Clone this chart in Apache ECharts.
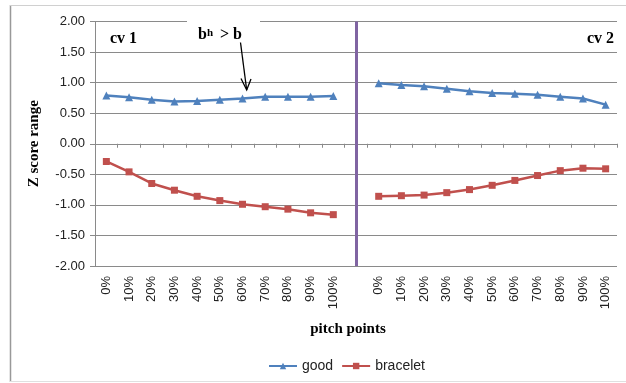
<!DOCTYPE html>
<html>
<head>
<meta charset="utf-8">
<script src="https://cdn.jsdelivr.net/npm/echarts@6/dist/echarts.min.js"></script>
<style>
  html, body { margin: 0; padding: 0; background: #fff; }
  #chart { width: 626px; height: 383px; }
</style>
</head>
<body>
<div id="chart"></div>
<script>
// Pitch positions along each curve
const pitchPoints = ['0%', '10%', '20%', '30%', '40%', '50%', '60%', '70%', '80%', '90%', '100%'];

// Z scores, first curve (cv 1)
const goodCv1 = [0.79, 0.76, 0.72, 0.69, 0.70, 0.72, 0.74, 0.77, 0.77, 0.77, 0.78];
const braceletCv1 = [-0.29, -0.46, -0.65, -0.76, -0.86, -0.93, -0.99, -1.03, -1.07, -1.13, -1.16];

// Z scores, second curve (cv 2)
const goodCv2 = [0.99, 0.96, 0.94, 0.90, 0.86, 0.83, 0.82, 0.80, 0.77, 0.74, 0.64];
const braceletCv2 = [-0.86, -0.85, -0.84, -0.80, -0.75, -0.68, -0.60, -0.52, -0.44, -0.40, -0.41];

// Value axis ticks
const yTicks = [-2, -1.5, -1, -0.5, 0, 0.5, 1, 1.5, 2];

// Both curves share one category axis, separated by an empty slot
const categories = [...pitchPoints, '', ...pitchPoints];
const gapIndex = pitchPoints.length;
const goodData = [...goodCv1, null, ...goodCv2];
const braceletData = [...braceletCv1, null, ...braceletCv2];

const serif = '"Liberation Serif", "DejaVu Serif", serif';
const sans = '"Liberation Sans", Arial, sans-serif';
const gridGrey = '#8a8a8a';

const chart = echarts.init(document.getElementById('chart'));
chart.setOption({
  animation: false,
  backgroundColor: '#fff',
  grid: { left: 95, right: 9, top: 21.5, bottom: 117 },
  legend: {
    left: 263, top: 354,
    itemWidth: 28, itemHeight: 8, itemGap: 8,
    textStyle: { fontFamily: sans, fontSize: 14, color: '#222' },
    data: ['good', 'bracelet']
  },
  xAxis: [
    {
      type: 'category',
      data: categories,
      boundaryGap: true,
      position: 'bottom',
      axisLine: { show: false, onZero: false },
      axisTick: { show: false },
      axisLabel: { interval: 0, rotate: 90, margin: 10, fontFamily: sans, fontSize: 13, color: '#222' },
      name: 'pitch points',
      nameLocation: 'middle',
      nameGap: 56,
      nameTextStyle: { fontFamily: serif, fontSize: 15, fontWeight: 'bold', color: '#000', padding: [0, 16, 0, 0] }
    },
    {
      type: 'category',
      data: categories,
      boundaryGap: true,
      position: 'bottom',
      axisLine: { show: true, onZero: true, onZeroAxisIndex: 0, lineStyle: { color: gridGrey, width: 1 } },
      axisTick: { show: true, interval: 0, length: 4, lineStyle: { color: gridGrey } },
      axisLabel: { show: false }
    }
  ],
  yAxis: {
    type: 'value',
    min: yTicks[0],
    max: yTicks[yTicks.length - 1],
    interval: 0.5,
    axisLine: { show: true, lineStyle: { color: gridGrey, width: 1 } },
    axisTick: { show: true, length: 5, lineStyle: { color: gridGrey } },
    axisLabel: { margin: 10, fontFamily: sans, fontSize: 13, color: '#222', formatter: v => v.toFixed(2) },
    splitLine: { show: true, lineStyle: { color: gridGrey, width: 1 } },
    name: 'Z score range',
    nameLocation: 'middle',
    nameGap: 53,
    nameRotate: 90,
    nameTextStyle: { fontFamily: serif, fontSize: 15, fontWeight: 'bold', color: '#000' }
  },
  series: [
    {
      name: 'good',
      type: 'line',
      data: goodData,
      color: '#4F81BD',
      symbol: 'triangle',
      symbolSize: 8,
      lineStyle: { width: 2.5 },
      connectNulls: false,
      z: 3,
      markLine: {
        silent: true,
        symbol: 'none',
        label: { show: false },
        lineStyle: { color: '#8064A2', width: 3, type: 'solid' },
        data: [{ xAxis: gapIndex }]
      }
    },
    {
      name: 'bracelet',
      type: 'line',
      data: braceletData,
      color: '#C0504D',
      symbol: 'rect',
      symbolSize: 7,
      lineStyle: { width: 2.5 },
      connectNulls: false,
      z: 3
    }
  ],
  graphic: [
    // chart frame
    { type: 'line', z: 50, shape: { x1: 10.5, y1: 5, x2: 10.5, y2: 382 }, style: { stroke: '#999', lineWidth: 1.5 } },
    { type: 'line', z: 50, shape: { x1: 10, y1: 5.5, x2: 626, y2: 5.5 }, style: { stroke: '#d0d0d0', lineWidth: 1 } },
    { type: 'line', z: 50, shape: { x1: 10, y1: 381.5, x2: 626, y2: 381.5 }, style: { stroke: '#e0e0e0', lineWidth: 1 } },
    // panel captions
    { type: 'text', z: 60, left: 110, top: 31, style: { text: 'cv 1', font: 'bold 16px ' + serif, fill: '#000' } },
    { type: 'text', z: 60, left: 587, top: 31, style: { text: 'cv 2', font: 'bold 16px ' + serif, fill: '#000' } },
    // annotation box over the top gridline
    { type: 'rect', z: 55, shape: { x: 187, y: 15, width: 73, height: 14 }, style: { fill: '#fff' } },
    { type: 'text', z: 60, left: 198, top: 27, style: { text: 'b', font: 'bold 16px ' + serif, fill: '#000' } },
    { type: 'text', z: 60, left: 207, top: 27.5, style: { text: 'h', font: 'bold 11px ' + serif, fill: '#000' } },
    { type: 'text', z: 60, left: 220, top: 27, style: { text: '> b', font: 'bold 16px ' + serif, fill: '#000' } },
    // arrow pointing at the good curve
    { type: 'line', z: 60, shape: { x1: 240.5, y1: 42.5, x2: 246.7, y2: 90 }, style: { stroke: '#000', lineWidth: 1.3 } },
    { type: 'polyline', z: 60, shape: { points: [[241, 78.5], [246.7, 90], [251, 79]] }, style: { stroke: '#000', lineWidth: 1.3, fill: null } }
  ]
});
</script>
</body>
</html>
